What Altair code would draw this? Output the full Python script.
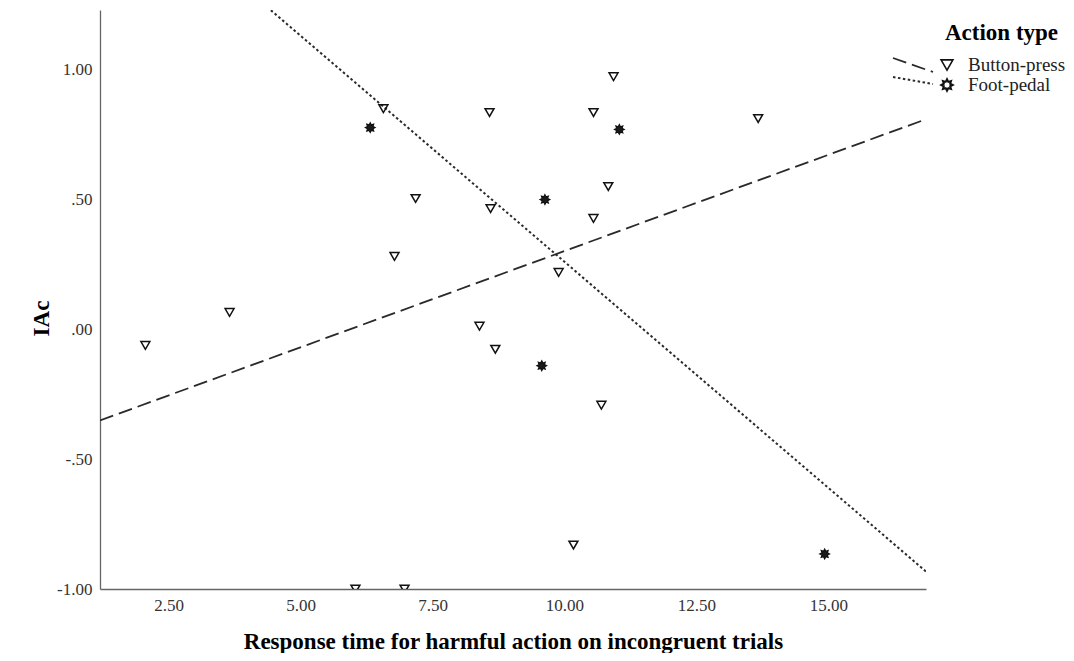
import altair as alt
import pandas as pd
import numpy as np

# ---- data ----
categories = ["Button-press", "Foot-pedal"]

bp_x = [2.06, 3.655, 6.57, 7.18, 6.78, 8.58, 8.60, 8.39, 8.69, 9.89,
        10.55, 10.55, 10.83, 10.93, 10.70, 10.17, 13.67, 6.04, 6.97]
bp_y = [-0.062, 0.065, 0.85, 0.504, 0.281, 0.835, 0.465, 0.012, -0.077, 0.219,
        0.427, 0.835, 0.55, 0.973, -0.292, -0.831, 0.812, -1.0, -1.0]

fp_x = [6.32, 9.63, 11.04, 9.57, 14.93]
fp_y = [0.777, 0.50, 0.77, -0.14, -0.865]

x_ticks = [2.5, 5.0, 7.5, 10.0, 12.5, 15.0]
y_ticks = [-1.0, -0.5, 0.0, 0.5, 1.0]
y_tick_labels = ["-1.00", "-.50", ".00", ".50", "1.00"]

x_title = "Response time for harmful action on incongruent trials"
y_title = "IAc"
legend_title = "Action type"

df = pd.DataFrame({
    "x": bp_x + fp_x,
    "y": bp_y + fp_y,
    "type": [categories[0]] * len(bp_x) + [categories[1]] * len(fp_x),
})

FONT = "Liberation Serif"
W, H = 826, 579

# 8-point star symbol path
pts = []
for k in range(16):
    a = k * np.pi / 8 - np.pi / 2
    r = 1.0 if k % 2 == 0 else 0.6
    pts.append(f"{r*np.cos(a):.3f},{r*np.sin(a):.3f}")
STAR = "M" + " L".join(pts) + " Z"

y_expr = " : ".join(
    f"abs(datum.value - ({v})) < 1e-6 ? '{lab}'" for v, lab in zip(y_ticks, y_tick_labels)
) + " : ''"

x_enc = alt.X(
    "x:Q",
    scale=alt.Scale(domain=[1.2, 16.85], nice=False, zero=False),
    axis=alt.Axis(
        values=x_ticks, format=".2f", title=x_title, ticks=False, grid=False,
        labelPadding=8, labelFontSize=17, labelColor="#333", labelFont=FONT,
        titleFont=FONT, titleFontSize=23, titleFontWeight="bold", titleColor="#000",
        titleX=W / 2, titleY=59, titleBaseline="alphabetic", titleAlign="center",
        domainColor="#666", domainWidth=1.3, labelFlush=False,
    ),
)
y_enc = alt.Y(
    "y:Q",
    scale=alt.Scale(domain=[-1.0, 1.23], nice=False, zero=False),
    axis=alt.Axis(
        values=y_ticks, labelExpr=y_expr, title=y_title, ticks=False, grid=False,
        labelPadding=8, labelFontSize=17, labelColor="#333", labelFont=FONT,
        titleFont=FONT, titleFontSize=23, titleFontWeight="bold", titleColor="#000",
        titleAngle=270, titleX=-52, titleY=308, titleBaseline="alphabetic",
        titleAlign="center", domainColor="#666", domainWidth=1.3, labelFlush=False,
    ),
)

base = alt.Chart(df)

tri = base.transform_filter(alt.datum.type == categories[0]).mark_point(
    shape="triangle-down", filled=False, stroke="#111", strokeWidth=1.5,
    size=80, opacity=1, clip=True,
).encode(x=x_enc, y=y_enc)

star = base.transform_filter(alt.datum.type == categories[1]).mark_point(
    shape=STAR, filled=True, fill="#1a1a1a", stroke="#111", strokeWidth=1.2,
    size=95, opacity=1, clip=True,
).encode(x=x_enc, y=y_enc)

fit_bp = base.transform_filter(alt.datum.type == categories[0]).transform_regression(
    "x", "y", extent=[1.2, 16.85]
).mark_line(stroke="#2a2a2a", strokeWidth=1.8, strokeDash=[14, 6], clip=True).encode(
    x=x_enc, y=y_enc
)

fit_fp = base.transform_filter(alt.datum.type == categories[1]).transform_regression(
    "x", "y", extent=[1.2, 16.85]
).mark_line(stroke="#2a2a2a", strokeWidth=2, strokeDash=[2.5, 2.5], clip=True).encode(
    x=x_enc, y=y_enc
)

one = alt.Data(values=[{"k": 0}])

leg_title = alt.Chart(one).mark_text(
    text=legend_title, font=FONT, fontSize=23, fontWeight="bold", align="left",
    baseline="alphabetic", color="#000",
).encode(x=alt.value(845), y=alt.value(30))

leg_dash = alt.Chart(one).mark_rule(stroke="#2a2a2a", strokeWidth=1.8, strokeDash=[14, 6]).encode(
    x=alt.value(793), x2=alt.value(833), y=alt.value(48), y2=alt.value(62)
)
leg_dot = alt.Chart(one).mark_rule(stroke="#2a2a2a", strokeWidth=2, strokeDash=[2.5, 2.5]).encode(
    x=alt.value(793), x2=alt.value(833), y=alt.value(67), y2=alt.value(74)
)
leg_tri = alt.Chart(one).mark_point(
    shape="triangle-down", filled=False, stroke="#111", strokeWidth=1.6, size=140, opacity=1
).encode(x=alt.value(847), y=alt.value(55))
leg_star = alt.Chart(one).mark_point(
    shape=STAR, filled=False, stroke="#111", strokeWidth=2, size=130, opacity=1
).encode(x=alt.value(847), y=alt.value(75))
leg_lab1 = alt.Chart(one).mark_text(
    text=categories[0], font=FONT, fontSize=19, align="left", baseline="middle", color="#222"
).encode(x=alt.value(868), y=alt.value(55))
leg_lab2 = alt.Chart(one).mark_text(
    text=categories[1], font=FONT, fontSize=19, align="left", baseline="middle", color="#222"
).encode(x=alt.value(868), y=alt.value(75))

chart = alt.layer(
    fit_bp, fit_fp, tri, star,
    leg_title, leg_dash, leg_dot, leg_tri, leg_star, leg_lab1, leg_lab2,
).properties(
    width=W, height=H,
    autosize=alt.AutoSizeParams(type="none"),
    padding={"left": 92, "top": 2, "right": 140, "bottom": 64},
    view=alt.ViewBackground(stroke="transparent", strokeWidth=0),
).configure_view(stroke="transparent", strokeWidth=0, strokeOpacity=0).configure(font=FONT)

chart.save("out.html", embed_options={"renderer": "svg", "actions": False})
